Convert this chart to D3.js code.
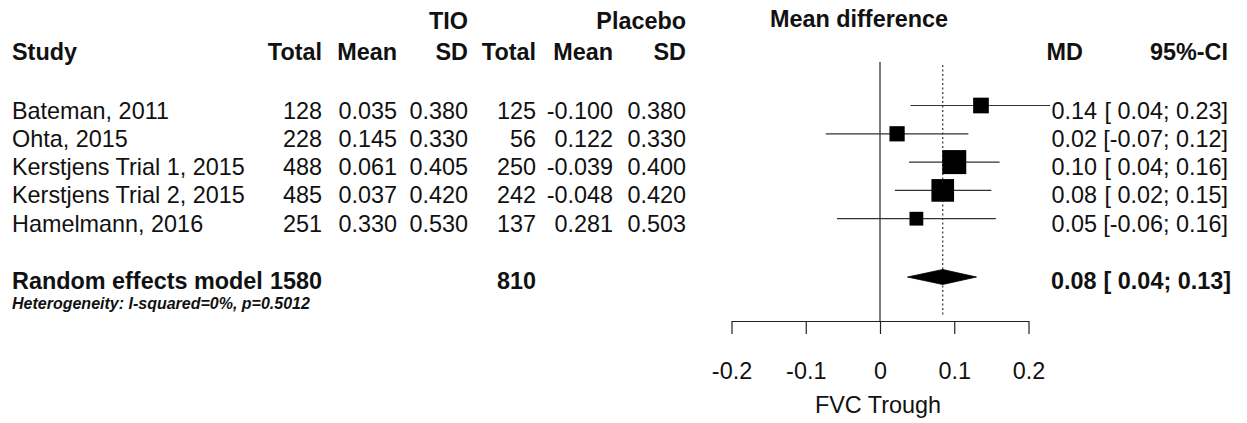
<!DOCTYPE html>
<html>
<head>
<meta charset="utf-8">
<script src="https://cdn.jsdelivr.net/npm/d3@7"></script>
<style>
  html, body { margin: 0; padding: 0; background: #fff; }
  svg { display: block; }
  text { font-family: "Liberation Sans", Arial, Helvetica, sans-serif; fill: #111; }
</style>
</head>
<body>
<svg id="chart" width="1247" height="423"></svg>
<script>
// ---------- data ----------
const studies   = ["Bateman, 2011", "Ohta, 2015", "Kerstjens Trial 1, 2015", "Kerstjens Trial 2, 2015", "Hamelmann, 2016"];
const tioTotal  = [128, 228, 488, 485, 251];
const tioMean   = [0.035, 0.145, 0.061, 0.037, 0.330];
const tioSD     = [0.380, 0.330, 0.405, 0.420, 0.530];
const plTotal   = [125, 56, 250, 242, 137];
const plMean    = [-0.100, 0.122, -0.039, -0.048, 0.281];
const plSD      = [0.380, 0.330, 0.400, 0.420, 0.503];
const md        = [0.136, 0.023, 0.100, 0.0845, 0.049];
const ciLower   = [0.041, -0.073, 0.039, 0.020, -0.058];
const ciUpper   = [0.229, 0.119, 0.161, 0.150, 0.156];
const weights   = [14.0, 13.2, 32.8, 29.2, 10.8];
const pooled    = { label: "Random effects model", tioTotal: 1580, plTotal: 810, md: 0.0845, lower: 0.037, upper: 0.130 };
const heterogeneity = "Heterogeneity: I-squared=0%, p=0.5012";
const axisTicks = [-0.2, -0.1, 0, 0.1, 0.2];
const xLabel = "FVC Trough";

// ---------- layout ----------
const svg = d3.select("#chart");
const FS = 23.4;
const loc = d3.formatLocale({decimal: ".", thousands: ",", grouping: [3], currency: ["", ""], minus: "-"});
const f3 = loc.format(".3f"), f2 = loc.format(".2f");
const sgn = v => (v < 0 ? f2(v) : " " + f2(v));

const headY1 = 29, headY2 = 60;
const rowBase = d3.scaleLinear().domain([0, 1]).range([118.5, 146.8]);
const poolBase = 289, hetBase = 309;
const lineOff = 13;

const cols = { study: 12, tTot: 322, tMean: 397, tSD: 468, pTot: 536, pMean: 613, pSD: 686, md: 1097, ci: 1228 };

const x = d3.scaleLinear().domain([-0.2, 0.2]).range([731.5, 1028.5]);
const axisY = 321;
const sq = d3.scaleSqrt().domain([0, d3.max(weights)]).range([0, 24]);

function txt(xp, yp, s, opt = {}) {
  return svg.append("text").attr("x", xp).attr("y", yp)
    .attr("text-anchor", opt.anchor || "start")
    .attr("font-size", opt.size || FS)
    .attr("font-weight", opt.bold ? "bold" : "normal")
    .attr("font-style", opt.italic ? "italic" : "normal")
    .style("white-space", "pre")
    .text(s);
}

// headers
txt(cols.tSD, headY1, "TIO", {anchor: "end", bold: true});
txt(cols.pSD, headY1, "Placebo", {anchor: "end", bold: true});
txt(770, headY1 - 2, "Mean difference", {bold: true});
txt(cols.study, headY2, "Study", {bold: true});
txt(cols.tTot, headY2, "Total", {anchor: "end", bold: true});
txt(cols.tMean, headY2, "Mean", {anchor: "end", bold: true});
txt(cols.tSD, headY2, "SD", {anchor: "end", bold: true});
txt(cols.pTot, headY2, "Total", {anchor: "end", bold: true});
txt(cols.pMean, headY2, "Mean", {anchor: "end", bold: true});
txt(cols.pSD, headY2, "SD", {anchor: "end", bold: true});
txt(1083, headY2, "MD", {anchor: "end", bold: true});
txt(cols.ci, headY2, "95%-CI", {anchor: "end", bold: true});

// reference lines
svg.append("line").attr("x1", x(0)).attr("x2", x(0)).attr("y1", 62).attr("y2", axisY)
  .attr("stroke", "#222").attr("stroke-width", 1.2);
svg.append("line").attr("x1", x(pooled.md)).attr("x2", x(pooled.md)).attr("y1", 65).attr("y2", 316)
  .attr("stroke", "#333").attr("stroke-width", 1.2).attr("stroke-dasharray", "2,2.5");

// study rows
studies.forEach((s, i) => {
  const yb = rowBase(i);
  const yl = yb - lineOff;
  txt(cols.study, yb, s);
  txt(cols.tTot, yb, String(tioTotal[i]), {anchor: "end"});
  txt(cols.tMean, yb, f3(tioMean[i]), {anchor: "end"});
  txt(cols.tSD, yb, f3(tioSD[i]), {anchor: "end"});
  txt(cols.pTot, yb, String(plTotal[i]), {anchor: "end"});
  txt(cols.pMean, yb, f3(plMean[i]), {anchor: "end"});
  txt(cols.pSD, yb, f3(plSD[i]), {anchor: "end"});
  txt(cols.md, yb, f2(md[i]), {anchor: "end"});
  txt(cols.ci, yb, "[" + sgn(ciLower[i]) + ";" + sgn(ciUpper[i]) + "]", {anchor: "end"});

  svg.append("line").attr("x1", x(ciLower[i])).attr("x2", x(ciUpper[i]))
    .attr("y1", yl).attr("y2", yl).attr("stroke", "#333").attr("stroke-width", 1.2);
  const s2 = sq(weights[i]);
  svg.append("rect").attr("x", x(md[i]) - s2 / 2).attr("y", yl - s2 / 2)
    .attr("width", s2).attr("height", s2).attr("fill", "#000");
});

// pooled row
txt(cols.study, poolBase, pooled.label, {bold: true});
txt(cols.tTot, poolBase, String(pooled.tioTotal), {anchor: "end", bold: true});
txt(cols.pTot, poolBase, String(pooled.plTotal), {anchor: "end", bold: true});
txt(1051, poolBase, f2(pooled.md), {bold: true});
txt(cols.ci + 3, poolBase, "[" + sgn(pooled.lower) + ";" + sgn(pooled.upper) + "]", {anchor: "end", bold: true});
const dy = poolBase - 12;
svg.append("path")
  .attr("d", `M${x(pooled.lower)},${dy} L${x(pooled.md)},${dy - 7.5} L${x(pooled.upper)},${dy} L${x(pooled.md)},${dy + 7.5} Z`)
  .attr("fill", "#000").attr("stroke", "#000").attr("stroke-width", 0.8);
txt(cols.study, hetBase, heterogeneity, {bold: true, italic: true, size: 16});

// axis
const axis = d3.axisBottom(x).tickValues(axisTicks).tickSize(13).tickSizeOuter(0).tickPadding(28)
  .tickFormat(d => d === 0 ? "0" : loc.format(".1f")(d));
const g = svg.append("g").attr("transform", `translate(0,${axisY})`).call(axis);
g.select(".domain").attr("stroke", "#222").attr("stroke-width", 1.2);
g.selectAll(".tick line").attr("stroke", "#222").attr("stroke-width", 1.2);
g.selectAll(".tick text").attr("font-size", FS).attr("font-family", "Liberation Sans, Arial, sans-serif").attr("fill", "#111");
txt(x(0) - 2, 413, xLabel, {anchor: "middle"});
</script>
</body>
</html>
